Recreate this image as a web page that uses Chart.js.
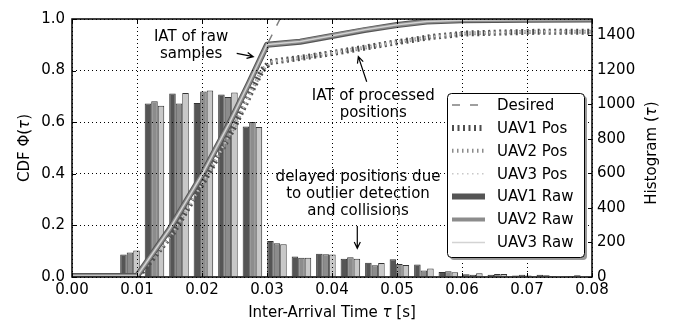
<!DOCTYPE html>
<html>
<head>
<meta charset="utf-8">
<script src="https://cdn.jsdelivr.net/npm/chart.js@4.4.0/dist/chart.umd.min.js"></script>
<style>
  body { margin: 0; background: #fff; }
  canvas { display: block; }
</style>
</head>
<body>
<canvas id="iat" width="689" height="320"></canvas>
<script>
// histogram: bin centres [s] and counts per UAV
var binCenters = [0.00892, 0.01269, 0.01646, 0.02022, 0.02399, 0.02776, 0.03153, 0.03530, 0.03906, 0.04283,
                  0.04660, 0.05037, 0.05414, 0.05790, 0.06167, 0.06544, 0.06921, 0.07298, 0.07674, 0.08051];
var uav1Hist = [131, 1005, 1062, 1008, 1057, 872, 208, 118, 135, 105, 82, 103, 72, 29, 16, 13, 8, 13, 4, 5];
var uav2Hist = [142, 1018, 1005, 1074, 1043, 898, 195, 112, 132, 115, 68, 75, 37, 33, 13, 17, 13, 10, 6, 4];
var uav3Hist = [153, 991, 1066, 1080, 1068, 868, 189, 112, 131, 106, 81, 70, 49, 27, 21, 17, 8, 6, 10, 6];

// CDF of raw sample IATs
var rawX    = [0, 0.0100, 0.0150, 0.0201, 0.0243, 0.0272, 0.0300, 0.0351, 0.0400, 0.0450, 0.0500, 0.0546, 0.0600, 0.0700, 0.0800];
var uav1Raw = [0.004, 0.004, 0.185, 0.400, 0.600, 0.750, 0.900, 0.912, 0.934, 0.957, 0.977, 0.990, 0.995, 0.997, 0.998];
var uav2Raw = [0.004, 0.004, 0.185, 0.400, 0.600, 0.750, 0.900, 0.913, 0.935, 0.958, 0.977, 0.990, 0.995, 0.997, 0.998];
var uav3Raw = [0.004, 0.004, 0.186, 0.401, 0.601, 0.751, 0.901, 0.913, 0.935, 0.958, 0.978, 0.990, 0.995, 0.997, 0.998];

// CDF of processed position IATs
var posX    = [0, 0.0102, 0.0155, 0.0207, 0.0249, 0.0280, 0.0292, 0.0305, 0.0351, 0.0400, 0.0443, 0.0500, 0.0555, 0.0608, 0.0700, 0.0800];
var uav1Pos = [0.003, 0.003, 0.170, 0.390, 0.580, 0.740, 0.800, 0.833, 0.849, 0.868, 0.886, 0.910, 0.931, 0.944, 0.950, 0.951];
var uav2Pos = [0.003, 0.003, 0.170, 0.390, 0.580, 0.740, 0.800, 0.833, 0.849, 0.868, 0.886, 0.910, 0.931, 0.944, 0.950, 0.951];
var uav3Pos = [0.003, 0.003, 0.171, 0.391, 0.581, 0.741, 0.801, 0.834, 0.850, 0.869, 0.887, 0.911, 0.932, 0.945, 0.951, 0.952];

var desiredX = [0.0100, 0.0150, 0.0201, 0.0243, 0.0272, 0.0300, 0.0320];
var desiredY = [0.000, 0.185, 0.400, 0.600, 0.750, 0.900, 1.000];

var xTickStep = 0.01;
var cdfTickStep = 0.2;
var histTickStep = 200;
var histMax = 1494;

var FONT = '"DejaVu Sans", sans-serif';

function pts(xs, ys) {
    return xs.map(function (x, i) { return { x: x, y: ys[i] }; });
}

function lineSet(label, xs, ys, color, width, dash, order) {
    return {
        type: 'line', label: label, data: pts(xs, ys), yAxisID: 'y',
        borderColor: color, borderWidth: width, borderDash: dash,
        borderJoinStyle: 'round', borderCapStyle: 'butt',
        pointRadius: 0, tension: 0, fill: false, clip: 0, order: order
    };
}

function barSet(label, ys, color) {
    return {
        type: 'bar', label: label, data: pts(binCenters, ys), yAxisID: 'y1',
        backgroundColor: color, borderColor: '#333333', borderWidth: 1,
        categoryPercentage: 0.8, barPercentage: 1, clip: 0, order: 10
    };
}

// rich text: parts = [[text, italic], ...]
function drawRich(ctx, parts, x, y) {
    var w = 0;
    parts.forEach(function (p) {
        ctx.font = (p[1] ? 'italic ' : '') + '15px ' + FONT;
        w += ctx.measureText(p[0]).width;
    });
    var cx = x - w / 2;
    ctx.textAlign = 'left';
    parts.forEach(function (p) {
        ctx.font = (p[1] ? 'italic ' : '') + '15px ' + FONT;
        ctx.fillText(p[0], cx, y);
        cx += ctx.measureText(p[0]).width;
    });
}

var notes = [
    { lines: ['IAT of raw', 'samples'], x: 0.01832, y: 0.916 },
    { lines: ['IAT of processed', 'positions'], x: 0.04635, y: 0.686 },
    { lines: ['delayed positions due', 'to outlier detection', 'and collisions'], x: 0.04400, y: 0.374 }
];
var arrows = [
    { x0: 0.02534, y0: 0.867, x1: 0.02789, y1: 0.854 },
    { x0: 0.04534, y0: 0.757, x1: 0.04405, y1: 0.854 },
    { x0: 0.04389, y0: 0.198, x1: 0.04389, y1: 0.111 }
];

var decorPlugin = {
    id: 'decor',
    afterDraw: function (chart) {
        var ctx = chart.ctx;
        var a = chart.chartArea;
        var sx = chart.scales.x, sy = chart.scales.y, sy1 = chart.scales.y1;
        ctx.save();
        ctx.strokeStyle = '#000';
        ctx.fillStyle = '#000';

        // inward ticks
        ctx.lineWidth = 1;
        ctx.beginPath();
        sx.ticks.forEach(function (t) {
            var px = Math.round(sx.getPixelForValue(t.value)) + 0.5;
            ctx.moveTo(px, a.bottom); ctx.lineTo(px, a.bottom - 4);
            ctx.moveTo(px, a.top); ctx.lineTo(px, a.top + 4);
        });
        sy.ticks.forEach(function (t) {
            var py = Math.round(sy.getPixelForValue(t.value)) + 0.5;
            ctx.moveTo(a.left, py); ctx.lineTo(a.left + 4, py);
        });
        sy1.ticks.forEach(function (t) {
            var py = Math.round(sy1.getPixelForValue(t.value)) + 0.5;
            ctx.moveTo(a.right, py); ctx.lineTo(a.right - 4, py);
        });
        ctx.stroke();

        // frame
        ctx.lineWidth = 1.5;
        ctx.strokeRect(a.left, a.top, a.right - a.left, a.bottom - a.top);

        // annotations
        ctx.font = '15px ' + FONT;
        ctx.textAlign = 'center';
        ctx.textBaseline = 'alphabetic';
        notes.forEach(function (n) {
            var px = sx.getPixelForValue(n.x), py = sy.getPixelForValue(n.y);
            n.lines.forEach(function (s, i) { ctx.fillText(s, px, py + i * 17); });
        });
        ctx.lineWidth = 1.2;
        arrows.forEach(function (r) {
            var x0 = sx.getPixelForValue(r.x0), y0 = sy.getPixelForValue(r.y0);
            var x1 = sx.getPixelForValue(r.x1), y1 = sy.getPixelForValue(r.y1);
            var ang = Math.atan2(y1 - y0, x1 - x0);
            ctx.beginPath();
            ctx.moveTo(x0, y0); ctx.lineTo(x1, y1);
            ctx.moveTo(x1 - 7 * Math.cos(ang - 0.45), y1 - 7 * Math.sin(ang - 0.45));
            ctx.lineTo(x1, y1);
            ctx.lineTo(x1 - 7 * Math.cos(ang + 0.45), y1 - 7 * Math.sin(ang + 0.45));
            ctx.stroke();
        });

        // axis titles
        ctx.textBaseline = 'alphabetic';
        drawRich(ctx, [['Inter-Arrival Time ', false], ['\u03c4', true], [' [s]', false]], (a.left + a.right) / 2, 317);
        ctx.save();
        ctx.translate(28.5, 148);
        ctx.rotate(-Math.PI / 2);
        drawRich(ctx, [['CDF \u03a6(', false], ['\u03c4', true], [')', false]], 0, 0);
        ctx.restore();
        ctx.save();
        ctx.translate(656, 153);
        ctx.rotate(-Math.PI / 2);
        drawRich(ctx, [['Histogram (', false], ['\u03c4', true], [')', false]], 0, 0);
        ctx.restore();

        // legend box
        var lw = 137, lh = 164;
        var lx = a.right - 145, ly = a.top + 74;
        ctx.fillStyle = '#999999';
        ctx.beginPath(); ctx.roundRect(lx + 3, ly + 3, lw, lh, 4); ctx.fill();
        ctx.fillStyle = '#ffffff';
        ctx.strokeStyle = '#000';
        ctx.lineWidth = 1;
        ctx.beginPath(); ctx.roundRect(lx + 0.5, ly + 0.5, lw, lh, 4); ctx.fill(); ctx.stroke();

        var rows = chart.data.datasets.filter(function (d) { return d.type === 'line'; });
        ctx.font = '15px ' + FONT;
        ctx.textAlign = 'left';
        ctx.textBaseline = 'middle';
        rows.forEach(function (d, i) {
            var ry = ly + 12 + i * 22.9;
            ctx.strokeStyle = d.borderColor;
            ctx.lineWidth = d.borderWidth;
            ctx.lineCap = 'butt';
            ctx.setLineDash(d.borderDash || []);
            ctx.beginPath(); ctx.moveTo(lx + 5, ry); ctx.lineTo(lx + 38, ry); ctx.stroke();
            ctx.setLineDash([]);
            ctx.fillStyle = '#000';
            ctx.fillText(d.label, lx + 50, ry + 1);
        });
        ctx.restore();
    }
};

Chart.defaults.font.family = FONT;
Chart.defaults.font.size = 15;
Chart.defaults.color = '#000';

var ctx = document.getElementById('iat').getContext('2d');
var chart = new Chart(ctx, {
    type: 'bar',
    data: {
        datasets: [
            lineSet('Desired', desiredX, desiredY, '#808080', 1.5, [8, 10], 7),
            lineSet('UAV1 Pos', posX, uav1Pos, '#4d4d4d', 6, [2, 3.5], 6),
            lineSet('UAV2 Pos', posX, uav2Pos, '#8c8c8c', 4, [1.5, 3.5], 5),
            lineSet('UAV3 Pos', posX, uav3Pos, '#c8c8c8', 1.5, [1.5, 3.5], 4),
            lineSet('UAV1 Raw', rawX, uav1Raw, '#555555', 6, [], 3),
            lineSet('UAV2 Raw', rawX, uav2Raw, '#8c8c8c', 4, [], 2),
            lineSet('UAV3 Raw', rawX, uav3Raw, '#d3d3d3', 1.5, [], 1),
            barSet('UAV1 hist', uav1Hist, '#555555'),
            barSet('UAV2 hist', uav2Hist, '#8c8c8c'),
            barSet('UAV3 hist', uav3Hist, '#c8c8c8')
        ]
    },
    options: {
        responsive: false,
        animation: false,
        layout: { padding: { top: 19, left: 0, right: 0, bottom: 0 } },
        plugins: {
            legend: { display: false },
            tooltip: { enabled: false }
        },
        scales: {
            x: {
                type: 'linear',
                min: 0, max: 0.08,
                offset: false,
                ticks: {
                    stepSize: xTickStep, maxRotation: 0, autoSkip: false, padding: 4,
                    callback: function (v) { return v.toFixed(2); }
                },
                grid: { color: '#000', lineWidth: 1, drawTicks: false, offset: false, z: 1 },
                border: { display: false, dash: [1, 3] },
                afterFit: function (s) { s.height = 43; }
            },
            y: {
                position: 'left',
                min: 0, max: 1,
                ticks: {
                    stepSize: cdfTickStep, padding: 7,
                    callback: function (v) { return v.toFixed(1); }
                },
                grid: { color: '#000', lineWidth: 1, drawTicks: false, z: 1 },
                border: { display: false, dash: [1, 3] },
                afterFit: function (s) { s.width = 72; }
            },
            y1: {
                position: 'right',
                min: 0, max: histMax,
                ticks: {
                    stepSize: histTickStep, padding: 5, includeBounds: false,
                    callback: function (v) { return String(v); }
                },
                grid: { drawOnChartArea: false, drawTicks: false },
                border: { display: false },
                afterFit: function (s) { s.width = 97; }
            }
        }
    },
    plugins: [decorPlugin]
});
</script>
</body>
</html>
